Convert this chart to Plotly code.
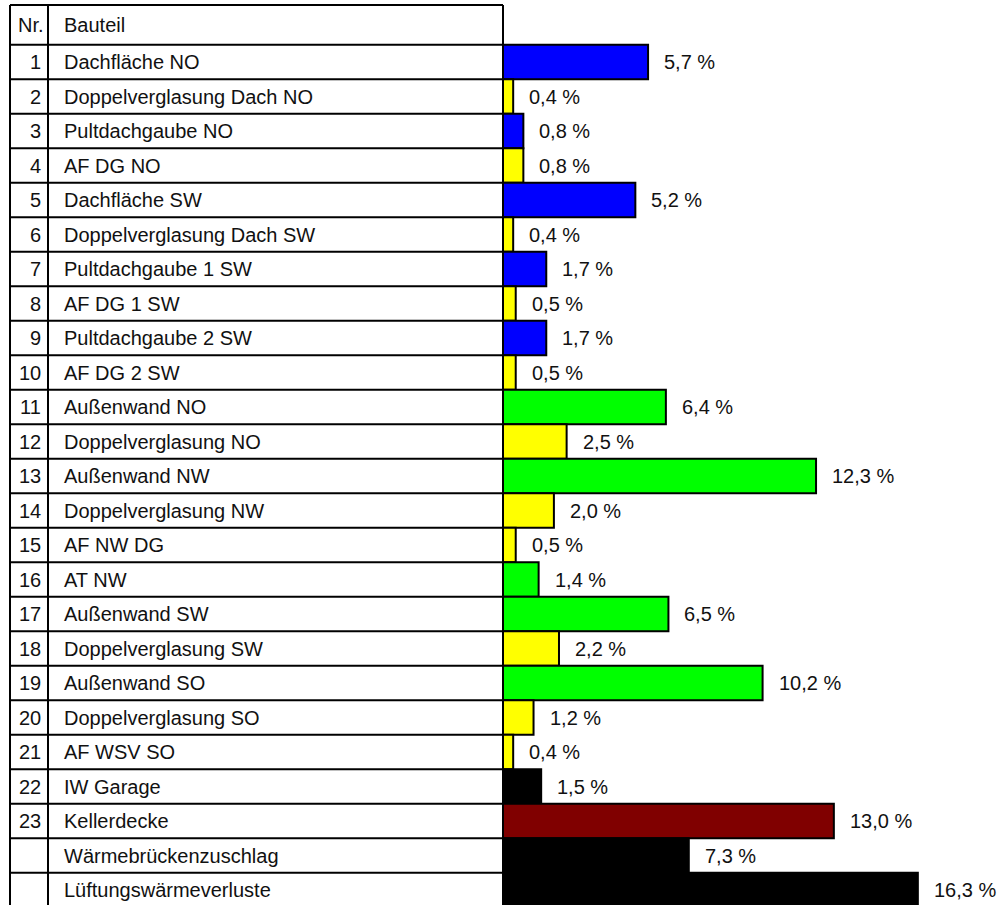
import plotly.graph_objects as go

nr = [str(i) for i in range(1, 24)] + ["", ""]
bauteil = [
    "Dachfläche NO", "Doppelverglasung Dach NO", "Pultdachgaube NO", "AF DG NO",
    "Dachfläche SW", "Doppelverglasung Dach SW", "Pultdachgaube 1 SW", "AF DG 1 SW",
    "Pultdachgaube 2 SW", "AF DG 2 SW", "Außenwand NO", "Doppelverglasung NO",
    "Außenwand NW", "Doppelverglasung NW", "AF NW DG", "AT NW", "Außenwand SW",
    "Doppelverglasung SW", "Außenwand SO", "Doppelverglasung SO", "AF WSV SO",
    "IW Garage", "Kellerdecke", "Wärmebrückenzuschlag", "Lüftungswärmeverluste",
]
values = [5.7, 0.4, 0.8, 0.8, 5.2, 0.4, 1.7, 0.5, 1.7, 0.5, 6.4, 2.5, 12.3,
          2.0, 0.5, 1.4, 6.5, 2.2, 10.2, 1.2, 0.4, 1.5, 13.0, 7.3, 16.3]
colors = ["#0000FF", "#FFFF00", "#0000FF", "#FFFF00", "#0000FF", "#FFFF00",
          "#0000FF", "#FFFF00", "#0000FF", "#FFFF00", "#00FF00", "#FFFF00",
          "#00FF00", "#FFFF00", "#FFFF00", "#00FF00", "#00FF00", "#FFFF00",
          "#00FF00", "#FFFF00", "#FFFF00", "#000000", "#800000", "#000000",
          "#000000"]
header = ["Nr.", "Bauteil"]

W, H = 997, 905
X0 = 503                     # pixel of zero
PX_PER_PCT = 25.45
ROW = 34.5
ROW1_C = 62.0
FONT = "Liberation Sans, Arial, sans-serif"
TXT = dict(family=FONT, size=20, color="#111111")

rows = list(range(1, len(values) + 1))
labels = [f"{v:.1f}".replace(".", ",") + " %" for v in values]

y_top = 1 - ROW1_C / ROW
y_bot = 1 + (H - ROW1_C) / ROW
y_head = 1 - (ROW1_C - 5) / ROW

fig = go.Figure()
fig.add_trace(go.Bar(
    x=values, y=rows, orientation="h", width=1,
    marker=dict(color=colors, line=dict(color="#000000", width=2)),
    hoverinfo="skip", showlegend=False,
))

def px(p):
    return p / W

annotations = []
for r, v, lab in zip(rows, values, labels):
    annotations.append(dict(x=v, y=r, xref="x", yref="y", text=lab,
                            showarrow=False, xanchor="left", xshift=14, font=TXT))
for r, n, b in zip(rows, nr, bauteil):
    if n:
        annotations.append(dict(x=px(43), y=r, xref="paper", yref="y", text=n,
                                showarrow=False, xanchor="right", font=TXT))
    annotations.append(dict(x=px(62), y=r, xref="paper", yref="y", text=b,
                            showarrow=False, xanchor="left", font=TXT))
yh = (y_head + 0.5) / 2
annotations.append(dict(x=px(46), y=yh, xref="paper", yref="y", text=header[0],
                        showarrow=False, xanchor="right", font=TXT))
annotations.append(dict(x=px(62), y=yh, xref="paper", yref="y", text=header[1],
                        showarrow=False, xanchor="left", font=TXT))

shapes = []
line = dict(color="#000000", width=2)
hy = [y_head] + [k + 0.5 for k in range(0, len(values))]
for yv in hy:
    shapes.append(dict(type="line", xref="paper", yref="y", x0=px(10), x1=px(X0),
                       y0=yv, y1=yv, line=line))
for xp in (10, 48, X0):
    shapes.append(dict(type="line", xref="paper", yref="y", x0=px(xp), x1=px(xp),
                       y0=y_head, y1=y_bot + 1, line=line))

fig.update_layout(
    width=W, height=H, margin=dict(l=0, r=0, t=0, b=0),
    paper_bgcolor="white", plot_bgcolor="white",
    xaxis=dict(domain=[px(X0), 1], range=[0, (W - X0) / PX_PER_PCT],
               visible=False, fixedrange=True),
    yaxis=dict(range=[y_bot, y_top], visible=False, fixedrange=True),
    annotations=annotations, shapes=shapes, bargap=0,
)

fig.write_html(
    "out.html",
    config={"displayModeBar": False, "staticPlot": True},
    post_script="document.body.style.margin='0';document.body.style.overflow='hidden';",
)
